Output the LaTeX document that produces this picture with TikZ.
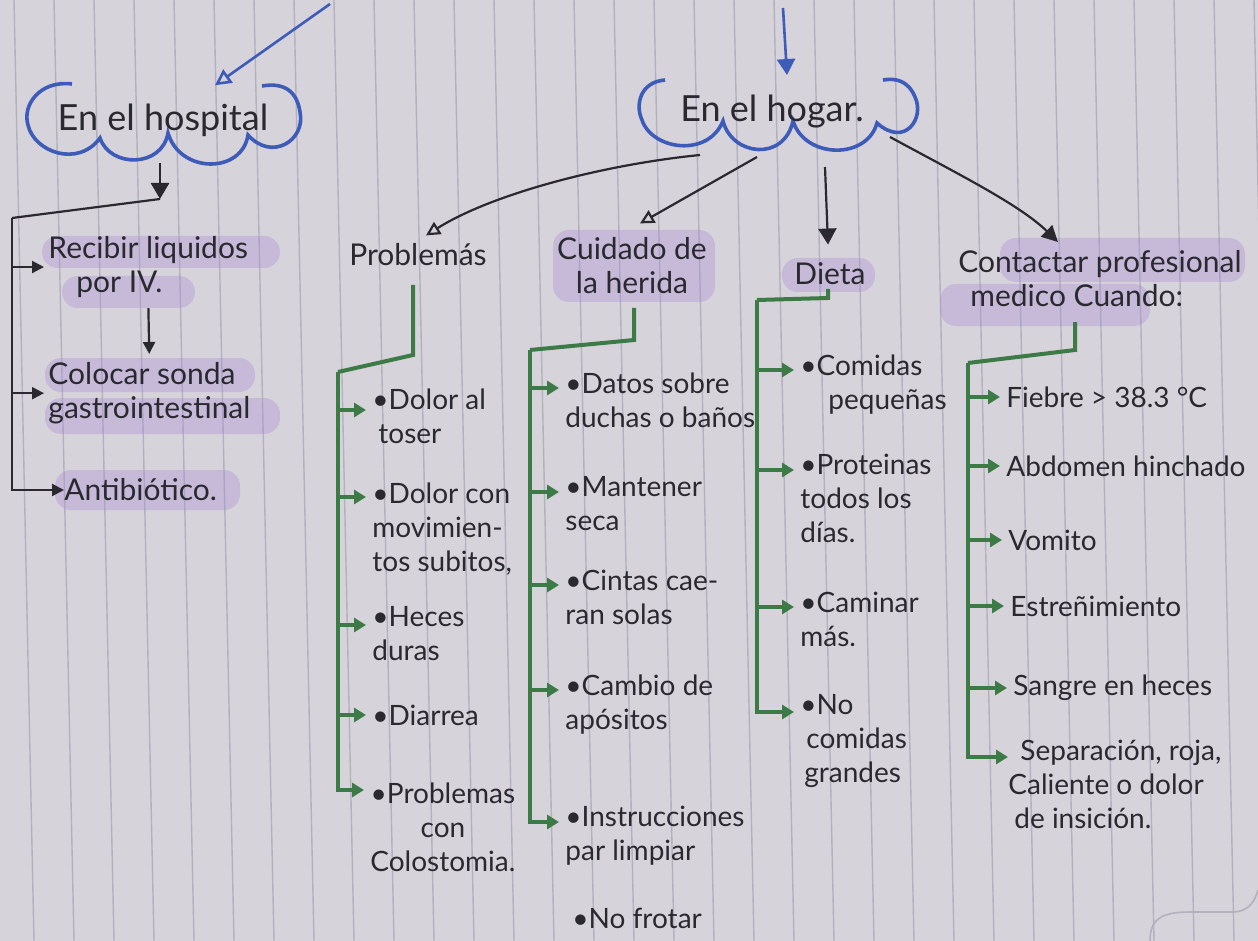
\documentclass[tikz,border=0pt]{standalone}
\usepackage{fontspec}
\setmainfont{Lato}
\usetikzlibrary{arrows.meta,calc}
\definecolor{paper}{HTML}{D7D3DB}
\definecolor{rulec}{HTML}{B3B1C0}
\definecolor{ink}{HTML}{2A2930}
\definecolor{pen}{HTML}{3D5BB8}
\definecolor{mk}{HTML}{3C7B45}
\definecolor{hl}{HTML}{A183D2}
\newcommand\hw{\fontsize{15}{17}\selectfont}
\newcommand\hwi{\fontsize{14}{17}\selectfont}
\newcommand\hwbig{\fontsize{18}{20}\selectfont}
\begin{document}
\begin{tikzpicture}[x=0.5pt,y=-0.5pt,
  txt/.style={font=\hwi,text=ink,inner sep=0pt,align=left,anchor=north west},
  ctr/.style={txt,align=center},
  ttl/.style={font=\hwbig,text=ink,inner sep=0pt},
  blk/.style={draw=ink,line width=1.1pt},
  blkar/.style={blk,-{Triangle[length=6pt,width=6pt]}},
  blkbig/.style={blk,line width=1.4pt,-{Triangle[length=8pt,width=9pt]}},
  blkopen/.style={blk,-{Triangle[open,length=7pt,width=7pt]}},
  grn/.style={draw=mk,line width=2pt},
  grnar/.style={grn,-{Triangle[length=6pt,width=7pt]}},
  bluel/.style={draw=pen,line width=1.3pt},
  cloud/.style={draw=pen,line width=1.8pt},
  hilite/.style={fill=hl,fill opacity=0.30,rounded corners=8pt}]
% paper
\fill[paper] (0,0) rectangle (1258,941);
\useasboundingbox (0,0) rectangle (1258,941);
\foreach \i in {0,...,31}
  \draw[rulec,line width=0.7pt] ({14+40*\i},0) -- ({34+40*\i},941);
\draw[rulec,line width=0.8pt] (1150,941) .. controls (1150,920) and (1160,912) .. (1190,912) -- (1232,912) .. controls (1250,912) and (1255,900) .. (1258,890);
% highlights
\fill[hilite] (42,236) rectangle (280,268);
\fill[hilite] (62,276) rectangle (195,308);
\fill[hilite] (45,358) rectangle (255,392);
\fill[hilite] (45,398) rectangle (280,434);
\fill[hilite] (55,470) rectangle (240,510);
\fill[hilite] (553,230) rectangle (715,302);
\fill[hilite] (782,258) rectangle (875,292);
\fill[hilite] (1000,238) rectangle (1245,282);
\fill[hilite] (940,284) rectangle (1150,326);

% clouds
\draw[cloud] (72,84) .. controls (40,80) and (22,105) .. (28,125)
  .. controls (34,152) and (78,168) .. (100,138)
  .. controls (110,168) and (162,168) .. (168,133)
  .. controls (180,174) and (242,174) .. (248,135)
  .. controls (272,162) and (306,140) .. (300,112)
  .. controls (297,92) and (285,82) .. (262,86);
\node[ttl] (hosp) at (163,120) {En el hospital};
\draw[cloud] (665,80) .. controls (640,82) and (635,105) .. (642,120)
  .. controls (652,150) and (708,158) .. (723,121)
  .. controls (732,156) and (784,162) .. (793,121)
  .. controls (805,159) and (867,160) .. (877,123)
  .. controls (905,148) and (925,118) .. (915,97)
  .. controls (908,80) and (895,78) .. (883,80);
\node[ttl] (hogar) at (772,112) {En el hogar.};

% top incoming arrows
\coordinate (topL) at (330,4);
\coordinate (topR) at (783,8);
\draw[bluel,-{Triangle[open,length=8pt,width=8pt]}] (topL) -- ($(hosp.north)+(52,-18)$);
\draw[bluel,-{Triangle[length=8pt,width=9pt]}] (topR) -- ($(hogar.north)+(15,-20)$);

% ---------- hospital branch ----------
\node[txt,font=\hw] (rec) at (48,236) {Recibir liquidos\\\hspace*{14pt}por IV.};
\node[txt,font=\hw] (col) at (48,362) {Colocar sonda\\gastrointestinal};
\node[txt,font=\hw,anchor=west] (anti) at (64,490) {Antibiótico.};
\coordinate (hA) at (160,163);
\coordinate (hB) at (160,199);
\coordinate (hT) at (12,218);
\draw[blkbig] (hA) -- (hB);
\draw[blk] (hB) -- (hT);
\draw[blkar] (hT) -- (hT |- anti.west) -- (anti.west);
\draw[blkar] (rec.west -| hT) -- ([xshift=-2pt]rec.west);
\draw[blkar] (col.west -| hT) -- ([xshift=-2pt]col.west);
\draw[blkar,shorten <=5pt,shorten >=4pt] (rec.south) -- (col.north);

% ---------- En el hogar branches ----------
\node[ttl,font=\hw] (prob) at (418,255) {Problemás};
\node[ctr,font=\hw,anchor=center] (cui) at (632,266) {Cuidado de\\la herida};
\node[ttl,font=\hw] (dieta) at (830,274) {Dieta};
\node[txt,font=\hw] (cont) at (958,250) {Contactar profesional\\\hspace*{6pt}medico Cuando:};

\coordinate (hg1) at (700,155);
\coordinate (hg2) at (757,157);
\coordinate (hg3) at (825,167);
\coordinate (hg4) at (890,137);
\draw[blkopen] (hg1) .. controls (600,165) and (490,195) .. ($(prob.north)+(8,-8)$);
\draw[blkopen] (hg2) -- ($(cui.north)+(8,-14)$);
\draw[blkbig,line width=1.1pt] (hg3) -- ($(dieta.north)+(-2,-18)$);
\draw[blkar,-{Triangle[length=8pt,width=8pt]}] (hg4) .. controls (960,175) and (1020,205) .. ($(cont.north)+(-42,-8)$);

% ---------- Problemas ----------
\node[txt] (p1) at (372,388) {\textbullet Dolor al\\\hspace*{3pt}toser};
\node[txt] (p2) at (372,482) {\textbullet Dolor con\\movimien-\\tos subitos,};
\node[txt] (p3) at (372,606) {\textbullet Heces\\duras};
\node[txt,anchor=west] (p4) at (372,715) {\textbullet Diarrea};
\node[ctr] (p5) at (370,782) {\textbullet Problemas\\con\\Colostomia.};
\coordinate (pA) at (413,285);
\coordinate (pB) at (413,355);
\coordinate (pT) at (338,372);
\draw[grn] (pA) -- (pB) -- (pT);
\draw[grnar] (pT) -- (pT |- 0,790) -- ([xshift=-3pt]p5.west |- 0,790);
\foreach \n/\yy in {p1/410,p2/497,p3/625,p4/715}
  \draw[grnar] (pT |- 0,\yy) -- ([xshift=-3pt]\n.west |- 0,\yy);

% ---------- Cuidado de la herida ----------
\node[txt] (c1) at (565,372) {\textbullet Datos sobre\\duchas o baños};
\node[txt] (c2) at (565,476) {\textbullet Mantener\\seca};
\node[txt] (c3) at (565,570) {\textbullet Cintas cae-\\ran solas};
\node[txt] (c4) at (565,674) {\textbullet Cambio de\\apósitos};
\node[txt] (c5) at (565,806) {\textbullet Instrucciones\\par limpiar};
\node[txt,anchor=west] (c6) at (572,918) {\textbullet No frotar};
\coordinate (cA) at (634,308);
\coordinate (cB) at (634,340);
\coordinate (cT) at (530,350);
\draw[grn] (cA) -- (cB) -- (cT);
\draw[grnar] (cT) -- (cT |- 0,822) -- ([xshift=-3pt]c5.west |- 0,822);
\foreach \n/\yy in {c1/388,c2/492,c3/585,c4/690}
  \draw[grnar] (cT |- 0,\yy) -- ([xshift=-3pt]\n.west |- 0,\yy);

% ---------- Dieta ----------
\node[txt] (d1) at (800,354) {\textbullet Comidas\\\hspace*{14pt}pequeñas};
\node[txt] (d2) at (800,454) {\textbullet Proteinas\\todos los\\días.};
\node[txt] (d3) at (800,592) {\textbullet Caminar\\más.};
\node[txt] (d4) at (800,694) {\textbullet No\\\hspace*{3pt}comidas\\\hspace*{2pt}grandes};
\coordinate (dA) at (828,289);
\coordinate (dB) at (828,298);
\coordinate (dT) at (757,300);
\draw[grn] (dA) -- (dB) -- (dT);
\draw[grnar] (dT) -- (dT |- 0,712) -- ([xshift=-3pt]d4.west |- 0,712);
\foreach \n/\yy in {d1/370,d2/470,d3/607}
  \draw[grnar] (dT |- 0,\yy) -- ([xshift=-3pt]\n.west |- 0,\yy);

% ---------- Contactar ----------
\node[txt,anchor=west] (k1) at (1006,397) {Fiebre > 38.3 °C};
\node[txt,anchor=west] (k2) at (1006,466) {Abdomen hinchado};
\node[txt,anchor=west] (k3) at (1008,540) {Vomito};
\node[txt,anchor=west] (k4) at (1010,606) {Estreñimiento};
\node[txt,anchor=west] (k5) at (1013,688) {Sangre en heces};
\node[txt] (k6) at (1008,740) {\hspace*{6pt}Separación, roja,\\Caliente o dolor\\\hspace*{3pt}de insición.};
\coordinate (kA) at (1075,322);
\coordinate (kB) at (1075,350);
\coordinate (kT) at (968,363);
\draw[grn] (kA) -- (kB) -- (kT);
\draw[grnar] (kT) -- (kT |- 0,757) -- (1008,757);
\foreach \n/\yy in {k1/397,k2/466,k3/540,k4/606,k5/688}
  \draw[grnar] (kT |- 0,\yy) -- ([xshift=-3pt]\n.west |- 0,\yy);
\end{tikzpicture}
\end{document}
